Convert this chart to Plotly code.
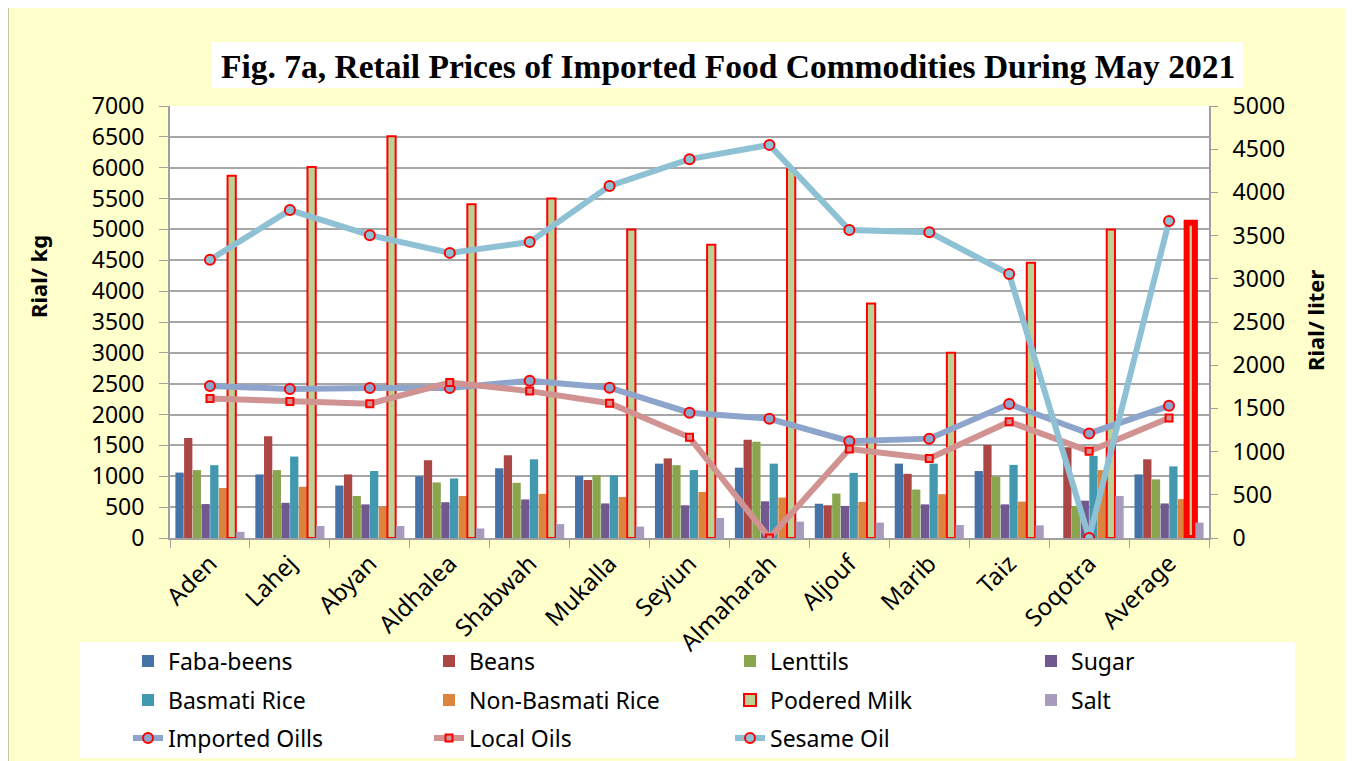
import plotly.graph_objects as go

cities = ["Aden", "Lahej", "Abyan", "Aldhalea", "Shabwah", "Mukalla", "Seyiun",
          "Almaharah", "Aljouf", "Marib", "Taiz", "Soqotra", "Average"]

faba = [1060, 1030, 850, 1000, 1130, 1005, 1205, 1140, 555, 1205, 1085, 0, 1030]
beans = [1620, 1650, 1030, 1260, 1340, 940, 1290, 1590, 530, 1040, 1505, 1470, 1275]
lentils = [1100, 1100, 680, 900, 895, 1015, 1180, 1560, 720, 785, 995, 520, 950]
sugar = [550, 570, 545, 580, 625, 560, 530, 595, 520, 545, 545, 605, 560]
basmati = [1180, 1320, 1085, 965, 1275, 1015, 1100, 1205, 1055, 1205, 1185, 1330, 1160]
nonbasmati = [810, 830, 510, 680, 715, 665, 745, 655, 585, 710, 590, 1100, 630]
milk = [5870, 6010, 6510, 5410, 5500, 5000, 4750, 5980, 3800, 3000, 4460, 5000, 5110]
salt = [100, 195, 195, 155, 225, 185, 325, 265, 250, 210, 205, 680, 250]

imported_oils = [1760, 1725, 1735, 1735, 1820, 1740, 1450, 1380, 1120, 1150, 1550, 1210, 1530]
local_oils = [1615, 1580, 1555, 1800, 1700, 1560, 1165, 0, 1030, 920, 1345, 1005, 1390]
sesame_oil = [3220, 3795, 3505, 3300, 3425, 4075, 4385, 4550, 3565, 3540, 3055, 0, 3670]

left_ticks = list(range(0, 7001, 500))
right_ticks = list(range(0, 5001, 500))

FONT = "Noto Sans"

# page offset (body margin) and plot-area geometry in screen pixels
OFF = 8
PX0, PX1, PY0, PY1 = 170, 1209, 106, 538
W, H = 1343, 770


def px(sx):
    return (sx - PX0) / (PX1 - PX0)


def py(sy):
    return (PY1 - sy) / (PY1 - PY0)


fig = go.Figure()

bar_series = [
    ("Faba-beens", faba, "#4572A7", "legend"),
    ("Beans", beans, "#AA4643", "legend"),
    ("Lenttils", lentils, "#89A54E", "legend"),
    ("Sugar", sugar, "#71588F", "legend"),
    ("Basmati Rice", basmati, "#4198AF", "legend2"),
    ("Non-Basmati Rice", nonbasmati, "#DB843D", "legend2"),
    ("Podered Milk", milk, "#BBD196", "legend2"),
    ("Salt", salt, "#A99BBD", "legend2"),
]
for name, vals, col, lg in bar_series:
    if name == "Podered Milk":
        lw = [2] * (len(vals) - 1) + [6]
        fig.add_trace(go.Bar(x=cities, y=vals, name=name, legend=lg,
                             marker=dict(color=col, line=dict(color="#FF0000", width=lw))))
    else:
        fig.add_trace(go.Bar(x=cities, y=vals, name=name, legend=lg,
                             marker=dict(color=col, line=dict(width=0))))

line_series = [
    ("Imported Oills", imported_oils, "#8EA5CB", "circle", 10),
    ("Local Oils", local_oils, "#D09392", "square", 7),
    ("Sesame Oil", sesame_oil, "#8FC1D5", "circle", 10),
]
for name, vals, col, sym, sz in line_series:
    fig.add_trace(go.Scatter(x=cities, y=vals, name=name, yaxis="y2", legend="legend3",
                             mode="lines+markers",
                             line=dict(color=col, width=6),
                             marker=dict(symbol=sym, size=sz, color=col,
                                         line=dict(color="#FF0000", width=2))))


def leg(row_y):
    return dict(orientation="h", x=px(128), xanchor="left", y=py(row_y), yanchor="middle",
                bgcolor="rgba(0,0,0,0)", font=dict(family=FONT, size=23),
                entrywidth=256, entrywidthmode="pixels", traceorder="normal",
                itemwidth=30)


fig.update_layout(
    width=W, height=H,
    paper_bgcolor="#FFFFCC",
    plot_bgcolor="#FFFFFF",
    margin=dict(l=PX0 - OFF, r=W - (PX1 - OFF), t=PY0 - OFF, b=H - (PY1 - OFF)),
    barmode="group",
    bargap=0.13,
    bargroupgap=0.05,
    font=dict(family=FONT, color="#000000", size=23),
    showlegend=True,
    legend=leg(661),
    legend2=leg(700),
    legend3=leg(738),
    xaxis=dict(type="category", range=[-0.5, len(cities) - 0.5],
               tickangle=-45, tickfont=dict(size=24),
               showline=True, linecolor="#A0A0A0", linewidth=2,
               ticks="outside", ticklen=8, tickcolor="#A0A0A0", tickson="boundaries",
               showgrid=False),
    yaxis=dict(range=[0, 7000], tickvals=left_ticks, ticks="outside", ticklen=9,
               tickcolor="#A0A0A0", showline=True, linecolor="#A0A0A0", linewidth=2,
               gridcolor="#A6A6A6", gridwidth=2, tickfont=dict(size=23),
               ticklabelstandoff=10, zeroline=False),
    yaxis2=dict(range=[0, 5000], tickvals=right_ticks, overlaying="y", side="right",
                ticks="outside", ticklen=7, tickcolor="#A0A0A0", showline=True,
                linecolor="#A0A0A0", linewidth=2, showgrid=False, tickfont=dict(size=23),
                ticklabelstandoff=10, zeroline=False),
)

# outer border
fig.add_shape(type="rect", xref="paper", yref="paper",
              x0=px(7.5), x1=px(1350.5), y0=py(5.5), y1=py(790),
              line=dict(color="#8C8C8C", width=2), layer="below")
# legend white box
fig.add_shape(type="rect", xref="paper", yref="paper",
              x0=px(80), x1=px(1295), y0=py(642), y1=py(758),
              line=dict(width=0), fillcolor="#FFFFFF", layer="below")
# title white box
fig.add_shape(type="rect", xref="paper", yref="paper",
              x0=px(212), x1=px(1243), y0=py(42), y1=py(88),
              line=dict(width=0), fillcolor="#FFFFFF", layer="below")

fig.add_annotation(text="<b>Fig. 7a, Retail Prices of Imported Food Commodities During May 2021</b>",
                   xref="paper", yref="paper", x=px(728), y=py(66),
                   xanchor="center", yanchor="middle", showarrow=False,
                   font=dict(family="Liberation Serif", size=33.5, color="#000000"))
fig.add_annotation(text="<b>Rial/ kg</b>", xref="paper", yref="paper",
                   x=px(38), y=py(277), xanchor="center", yanchor="middle",
                   textangle=-90, showarrow=False, font=dict(family=FONT, size=22))
fig.add_annotation(text="<b>Rial/ liter</b>", xref="paper", yref="paper",
                   x=px(1315), y=py(321), xanchor="center", yanchor="middle",
                   textangle=-90, showarrow=False, font=dict(family=FONT, size=22))

fig.write_html("out.html")
